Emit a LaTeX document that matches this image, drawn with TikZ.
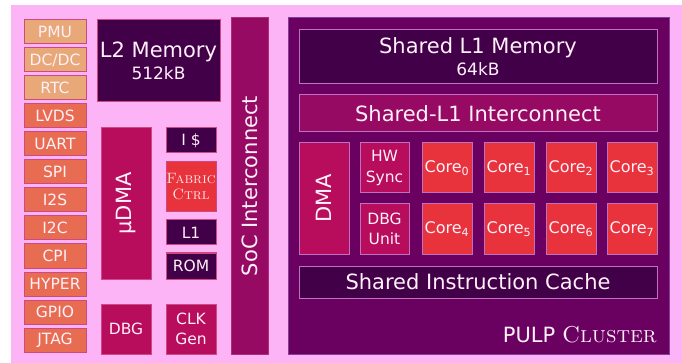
\documentclass[tikz,border=0pt]{standalone}
\usepackage{fontspec}
\setsansfont{DejaVu Sans}
\definecolor{pinkbg}{HTML}{FCB4F6}
\definecolor{tan}{HTML}{E8A878}
\definecolor{salmon}{HTML}{E86C52}
\definecolor{darkp}{HTML}{420048}
\definecolor{magb}{HTML}{B80C5C}
\definecolor{socc}{HTML}{960A64}
\definecolor{clus}{HTML}{6A0060}
\definecolor{redb}{HTML}{E8323C}
\definecolor{textc}{HTML}{FFF0FA}
\definecolor{bordA}{HTML}{D04880}
\definecolor{bordB}{HTML}{C070C0}
\definecolor{bordC}{HTML}{80409A}
\newcommand\bx[7]{\node[#6, minimum width={(#4-#2)*1pt}, minimum height={(#5-#3)*1pt}] (#1) at ({(#2+#4)/2},{(#3+#5)/2}) {#7};}
\newcommand\bxr[7]{\node[#6, rotate=90, minimum height={(#4-#2)*1pt}, minimum width={(#5-#3)*1pt}] (#1) at ({(#2+#4)/2},{(#3+#5)/2}) {#7};}
\begin{document}
\begin{tikzpicture}[x=1pt,y=-1pt,
  blk/.style={draw, line width=1pt, inner sep=0pt, text=textc, align=center},
  big/.style={font=\sffamily\fontsize{21}{24}\selectfont},
  med/.style={font=\sffamily\fontsize{15.5}{20.5}\selectfont},
  periA/.style={blk, med, fill=tan, draw=bordA},
  periB/.style={blk, med, fill=salmon, draw=bordA},
  darkA/.style={blk, fill=darkp, draw=bordA},
  magA/.style={blk, fill=magb, draw=bordA},
  redA/.style={blk, fill=redb, draw=bordA},
  darkB/.style={blk, fill=darkp, draw=bordB},
  magB/.style={blk, fill=magb, draw=bordB},
  socB/.style={blk, fill=socc, draw=bordB},
  coreB/.style={blk, fill=redb, draw=bordB, font=\sffamily\fontsize{16}{20}\selectfont}]
\useasboundingbox (0,0) rectangle (682,363);
\fill[pinkbg] (11,5) rectangle (682,363);
% peripherals
\bx{pmu}{24}{20}{86}{44}{periA}{PMU}
\bx{dcdc}{24}{48}{86}{72}{periA}{DC/DC}
\bx{rtc}{24}{76}{86}{100}{periA}{RTC}
\bx{lvds}{24}{104}{86}{128}{periB}{LVDS}
\bx{uart}{24}{132}{86}{156}{periB}{UART}
\bx{spi}{24}{160}{86}{184}{periB}{SPI}
\bx{i2s}{24}{188}{86}{212}{periB}{I2S}
\bx{i2c}{24}{216}{86}{240}{periB}{I2C}
\bx{cpi}{24}{244}{86}{268}{periB}{CPI}
\bx{hyper}{24}{272}{86}{296}{periB}{HYPER}
\bx{gpio}{24}{300}{86}{324}{periB}{GPIO}
\bx{jtag}{24}{328}{86}{352}{periB}{JTAG}
% fabric
\bx{l2}{97}{20}{220}{102}{darkA, big}{L2 Memory\\[-2pt]{\fontsize{17}{20}\selectfont 512kB}}
\bxr{udma}{101}{128}{151}{279}{magA, big}{µDMA}
\bx{icache}{166}{128}{216}{153}{darkA, med}{I \$}
\bx{fctrl}{166}{162}{216}{212}{redA, text=pink!40!white, font=\rmfamily\fontsize{15}{16}\selectfont}{\textsc{Fabric}\\\textsc{Ctrl}}
\bx{l1}{166}{220}{216}{245}{darkA, med}{L1}
\bx{rom}{166}{253}{216}{279}{darkA, med}{ROM}
\bx{dbg}{101}{304}{151}{354}{magA, med}{DBG}
\bx{clk}{166}{304}{216}{354}{magA, med}{CLK\\Gen}
\bxr{soc}{231}{18}{268}{354}{blk, fill=socc, draw=socc!80!pink, big}{SoC Interconnect}
% cluster
\bx{cluster}{288}{18}{669}{354}{blk, fill=clus, draw=bordC}{}
\bx{sl1}{299}{30}{657}{84}{darkB, big}{Shared L1 Memory\\[-2pt]{\fontsize{17}{20}\selectfont 64kB}}
\bx{sl1ic}{299}{95}{657}{132}{socB, big}{Shared-L1 Interconnect}
\bxr{dma}{299}{143}{349}{254}{magB, big}{DMA}
\bx{hws}{360}{143}{409}{193}{magB, med}{HW\\Sync}
\bx{dbgu}{360}{204}{409}{254}{magB, med}{DBG\\Unit}
\bx{core0}{422}{143}{472}{193}{coreB}{Core\textsubscript{0}}
\bx{core1}{484}{143}{534}{193}{coreB}{Core\textsubscript{1}}
\bx{core2}{546}{143}{596}{193}{coreB}{Core\textsubscript{2}}
\bx{core3}{607}{143}{657}{193}{coreB}{Core\textsubscript{3}}
\bx{core4}{422}{204}{472}{254}{coreB}{Core\textsubscript{4}}
\bx{core5}{484}{204}{534}{254}{coreB}{Core\textsubscript{5}}
\bx{core6}{546}{204}{596}{254}{coreB}{Core\textsubscript{6}}
\bx{core7}{607}{204}{657}{254}{coreB}{Core\textsubscript{7}}
\bx{sic}{299}{266}{657}{298}{darkB, big}{Shared Instruction Cache}
\node[anchor=base east, inner sep=0pt, text=textc] (pulp) at (657,342) {\sffamily\fontsize{21}{24}\selectfont PULP \rmfamily\fontsize{23}{26}\selectfont\textsc{Cluster}};
\end{tikzpicture}
\end{document}
